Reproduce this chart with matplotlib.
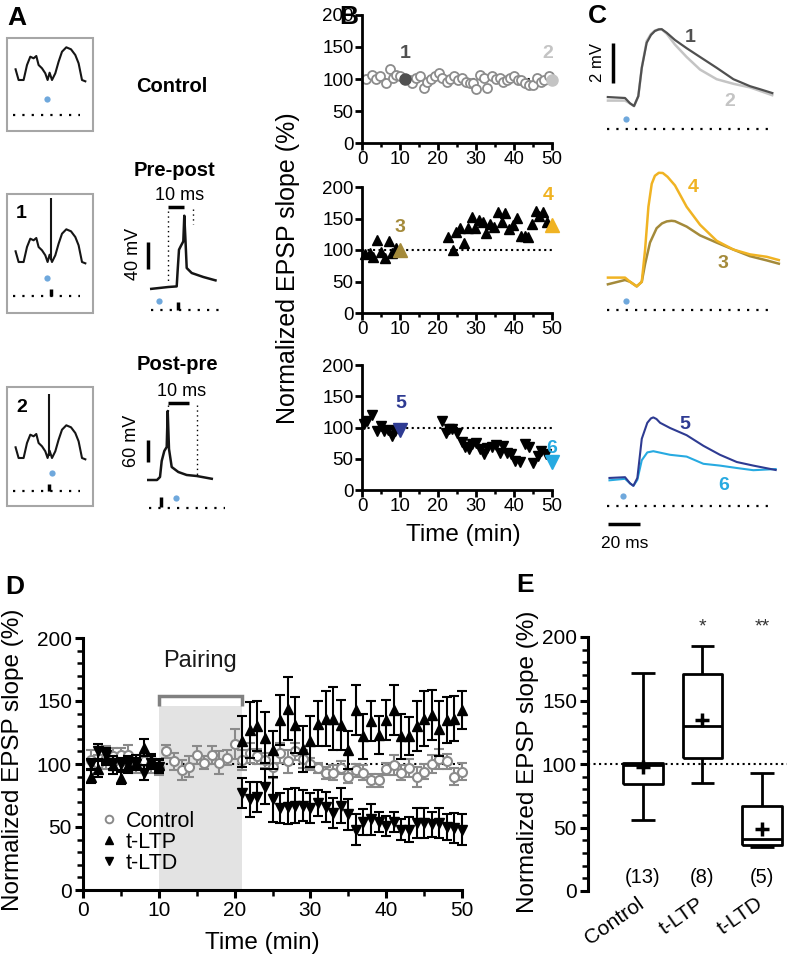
import numpy as np
import matplotlib.pyplot as plt
import matplotlib.transforms as mtransforms
from matplotlib.patches import Rectangle
from matplotlib.lines import Line2D
from matplotlib.ticker import MultipleLocator

plt.rcParams['font.family'] = ['Liberation Sans', 'DejaVu Sans']
plt.rcParams['lines.solid_capstyle'] = 'butt'

W, H = 791, 961

# ---------------- data ----------------
# A: place-field voltage trace inside a box (local px), used for the three boxes
pf_x = [8, 11.3, 16.3, 19.7, 23, 26.3, 29, 31.3, 34.7, 38, 40.3, 42.3, 44.7, 48,
        51.3, 54.7, 59, 63.7, 68, 71.3, 74.7, 79]
pf_y = [30.3, 42, 42, 27, 18.7, 20.3, 18, 27, 30.3, 35.3, 42, 34.7, 42, 35.3,
        23.7, 13.7, 9.3, 11.3, 17, 25.3, 42, 43.7]
# A: pairing traces (local px from trace start, y down)
prepost_x = [0, 18.3, 26.7, 27.7, 29, 31, 33.3, 34.3, 35.5, 36.7, 41.7, 53.3, 66.7]
prepost_y = [0, -2, -2.6, -19.3, -39.3, -43.3, -47.6, -73.3, -48.3, -21, -16, -12, -8.3]
postpre_x = [0, 10, 13, 14.7, 17.3, 19.7, 20.7, 22, 24.7, 31.3, 39.7, 49.7, 66]
postpre_y = [0, 0, -3, -19, -29, -33, -69, -31, -13, -8, -5, -4, -1]

# B: single-cell examples (time min, EPSP slope %)
b1_t = [1, 2.5, 3.8, 4.7, 6.2, 7.3, 8.2, 9, 10.1, 12.6, 13.2, 14.2, 15.2, 16.4, 17,
        18.1, 19.2, 20.2, 21.1, 22.3, 23.1, 24.2, 25.3, 26.4, 27.3, 28.3, 29.1, 30,
        31, 32.1, 33, 34.1, 35.2, 36.2, 37, 38.1, 39, 40, 41, 41.9, 43, 44, 45, 46,
        47, 48, 49.1]
b1_v = [100, 107, 100, 105, 93, 115, 102, 107, 104, 98, 94, 101, 104, 86, 96,
        100, 105, 109, 101, 95, 100, 105, 98, 101, 96, 93, 93, 84,
        106, 101, 86, 104, 100, 101, 96, 98, 101, 105, 99, 98, 94, 90, 91, 102,
        96, 98, 105]
b1_mark_t = [11.3, 50]
b1_mark_v = [100, 99]

b2_t = [0.7, 2, 2.9, 4, 4.9, 6, 7, 8, 9, 22.7, 23.9, 24.7, 25.8, 26.8, 27.8, 29,
        29.8, 30.8, 31.8, 32.7, 33.7, 34.8, 35.7, 36.8, 37.7, 38.7, 39.7, 40.8,
        41.8, 42.8, 43.8, 44.7, 45.8, 46.7, 47.6, 48.7]
b2_v = [94, 96, 89, 116, 97, 88, 115, 95, 103, 120, 100, 129, 135, 111, 135, 152,
        135, 147, 145, 127, 142, 137, 160, 145, 158, 133, 140, 151,
        122, 122, 120, 142, 162, 154, 160, 144]
b2_mark_t = [10, 50]
b2_mark_v = [100, 140]

b3_t = [0.4, 1.3, 2.7, 4, 4.9, 5.8, 6.9, 7.9, 8.7, 21, 22, 23, 23.8, 25, 26.2,
        27.2, 28.1, 29, 30, 31, 32.1, 33, 34.1, 35.3, 36.2, 37.2, 38.1, 39.3,
        40.3, 41.5, 42.9, 44, 45.1, 46.2, 47.1, 48.4]
b3_v = [105, 111, 120, 95, 103, 94, 96, 87, 94, 111, 92, 97, 97, 92, 77,
        69, 65, 73, 75, 65, 57, 68, 69, 72, 60, 70, 59, 57,
        47, 45, 74, 69, 43, 54, 62, 58]
b3_mark_t = [10, 50]
b3_mark_v = [96, 45]

# C: EPSP traces (ms, mV)
c1_t = [0, 11.6, 14.8, 17.3, 20.0, 22.2, 25.3, 28, 30.5, 33, 34.8, 38.0, 43.2, 50.6,
        59.1, 69.6, 80.2, 90.7, 97.0, 105.5]
c1_v = [0, -0.05, -0.32, -0.45, 0.04, 1.46, 2.71, 3.1, 3.3, 3.38, 3.39, 3.21, 2.85,
        2.44, 2.0, 1.46, 0.89, 0.54, 0.39, 0.18]
c2_t = [0, 11.6, 14.8, 17.3, 20.0, 22.2, 25.3, 28, 30.5, 33, 34.8, 38.0, 43.2, 50.6,
        59.1, 69.6, 80.2, 90.7, 105.5]
c2_v = [-0.18, -0.18, -0.32, -0.46, 0.04, 1.46, 2.8, 3.15, 3.32, 3.39, 3.39, 3.16,
        2.62, 2.0, 1.37, 0.89, 0.66, 0.48, 0.07]
c3_t = [0, 11.6, 14.8, 19.0, 22.2, 24.3, 27.4, 31.6, 35, 38.0, 41, 43.2, 50.6, 59.1,
        69.6, 80.2, 90.7, 101.3, 109.7]
c3_v = [-0.14, 0.09, 0, -0.23, 0, 0.89, 1.96, 2.68, 2.92, 3.02, 3.05, 3.03, 2.76,
        2.32, 1.96, 1.61, 1.28, 1.07, 0.89]
c4_t = [0, 11.6, 14.8, 19.0, 22.2, 24.3, 26.4, 28.5, 30.5, 33, 35.5, 38.5, 43.2, 50.6,
        59.1, 69.6, 80.2, 90.7, 101.3, 109.7]
c4_v = [0.21, 0.21, 0, -0.23, 0, 1.61, 3.75, 4.9, 5.3, 5.45, 5.44, 5.25, 4.82, 3.75,
        2.85, 2.05, 1.61, 1.37, 1.25, 1.07]
c5_t = [1.1, 11.6, 14.8, 16.9, 19.4, 22.2, 25.7, 28, 29.5, 31.5, 33.8, 40.1, 50.6,
        61.2, 71.7, 82.3, 92.8, 107.6]
c5_v = [0, 0.04, -0.27, -0.39, 0, 1.96, 2.76, 2.98, 3.03, 2.95, 2.76, 2.5, 2.14,
        1.61, 1.16, 0.8, 0.62, 0.39]
c6_t = [1.1, 11.6, 14.8, 16.9, 19.4, 22.2, 25.7, 29.5, 40.1, 50.6, 61.2, 71.7,
        82.3, 92.8, 107.6]
c6_v = [-0.12, -0.04, -0.27, -0.39, -0.09, 0.89, 1.28, 1.34, 1.16, 1.07, 0.71,
        0.62, 0.5, 0.39, 0.45]

# D: averaged time courses (mean, SEM)
d_ctrl_t = list(range(1, 51))
d_ctrl_v = [103, 100, 105, 106, 107, 107, 100, 102, 100, 97,
            110, 102, 95, 98, 107, 101, 107, 101, 105, 116,
            103, 109, 106, 103, 98, 109, 102, 110, 104, 100,
            97, 93, 93, 97, 90, 95, 93, 87, 87, 96,
            99, 93, 97, 90, 94, 100, 104, 102, 90, 94]
d_ctrl_e = [8, 7, 9, 7, 6, 8, 7, 6, 7, 6,
            5, 7, 8, 8, 7, 5, 7, 9, 6, 12,
            8, 8, 6, 6, 9, 8, 9, 7, 7, 5,
            4, 5, 6, 5, 5, 5, 6, 5, 5, 5,
            8, 6, 7, 8, 6, 7, 8, 6, 7, 7]
d_pair_t = list(range(1, 11)) + list(range(21, 51))
d_ltp_v = [90, 96, 105, 99, 89, 99, 101, 113, 103, 99,
           118, 127, 130, 121, 111, 135, 144, 131, 112, 118,
           132, 136, 136, 131, 111, 143, 122, 134, 123, 135,
           143, 122, 122, 130, 136, 139, 128, 135, 136, 143]
d_ltp_e = [5, 6, 6, 7, 5, 6, 6, 7, 5, 5,
           20, 22, 20, 20, 15, 20, 25, 22, 18, 20,
           18, 22, 25, 20, 15, 20, 18, 16, 15, 16,
           20, 18, 15, 20, 22, 20, 22, 18, 18, 15]
d_ltd_v = [100, 110, 107, 101, 100, 100, 100, 93, 101, 98,
           77, 72, 74, 82, 72, 65, 66, 67, 67, 65,
           69, 66, 61, 67, 60, 48, 54, 56, 54, 51,
           54, 48, 48, 53, 53, 52, 53, 50, 49, 48]
d_ltd_e = [4, 6, 6, 5, 5, 6, 5, 6, 5, 5,
           12, 14, 12, 14, 18, 12, 14, 14, 12, 12,
           10, 12, 12, 14, 12, 12, 10, 12, 8, 8,
           8, 8, 10, 12, 12, 10, 12, 10, 12, 12]
pairing_start, pairing_end = 10, 21

# E: summary box plots
e_groups = ['Control', 't-LTP', 't-LTD']
e_whislo = [56, 85, 35]
e_q1 = [84, 105, 36]
e_med = [99, 130, 41]
e_q3 = [101, 171, 67]
e_whishi = [172, 193, 93]
e_mean = [98, 135, 49]
e_n = ['(13)', '(8)', '(5)']
e_sig = ['', '*', '**']

# ---------------- colours ----------------
col_1, col_2 = '#505050', '#c4c4c4'
col_3, col_4 = '#a48a3a', '#f0b323'
col_5, col_6 = '#2e3b92', '#27aae1'
stim_blue = '#6fa8dc'
ctrl_gray = '#8a8a8a'

fig = plt.figure(figsize=(W / 100, H / 100), dpi=100)


def add_ax(x0, y0, x1, y1):
    return fig.add_axes([x0 / W, 1 - y1 / H, (x1 - x0) / W, (y1 - y0) / H])


def ftxt(x, y, s, **kw):
    kw.setdefault('ha', 'center')
    kw.setdefault('va', 'center')
    fig.text(x / W, 1 - y / H, s, **kw)


def dots(ax, x0, x1, y, lw=1.6):
    ax.plot([x0, x1], [y, y], color='k', lw=lw, dashes=(1, 3.2))


# ---------------- panel A ----------------
ax_a = add_ax(0, 0, 230, 560)
ax_a.set_xlim(0, 230)
ax_a.set_ylim(560, 0)
ax_a.axis('off')

boxes = [(7.3, 38, 92.7, 131, 0, None), (7.3, 194, 92.7, 313, 26, (43.3, 4)),
         (7.3, 387, 92.7, 506, 29, (42, 7))]
box_dot = [(46.7, 99), (46.7, 278), (51.7, 472.6)]
box_line = [115, 296, 490.5]
for (x0, y0, x1, y1, off, spike), (dx, dy), ly in zip(boxes, box_dot, box_line):
    ax_a.add_patch(Rectangle((x0, y0), x1 - x0, y1 - y0, fill=False,
                             ec='#a6a6a6', lw=1.5))
    ax_a.plot(np.array(pf_x) + x0, np.array(pf_y) + y0 + off, color='#151515', lw=1.5)
    if spike is not None:
        sx = spike[0] + x0
        ax_a.plot([sx, sx], [y0 + spike[1], y0 + off + 40], color='#151515', lw=1.5)
        ax_a.plot([sx, sx], [ly - 7, ly], color='k', lw=2.5)
    ax_a.plot(dx, dy, 'o', color=stim_blue, ms=4.5, mec='none')
    dots(ax_a, x0 + 6, x0 + 73, ly)
ax_a.text(21, 214, '1', fontsize=14, fontweight='bold', ha='center', va='center')
ax_a.text(22, 407, '2', fontsize=14, fontweight='bold', ha='center', va='center')

ax_a.text(172, 86, 'Control', fontsize=14.5, fontweight='bold', ha='center', va='center')
ax_a.text(174, 170, 'Pre-post', fontsize=14.5, fontweight='bold', ha='center', va='center')
ax_a.text(177, 364, 'Post-pre', fontsize=14.5, fontweight='bold', ha='center', va='center')

# pre-post pairing
ox, oy = 150, 289
ax_a.plot(np.array(prepost_x) + ox, np.array(prepost_y) + oy, color='#151515', lw=1.8)
ax_a.plot([168.3, 184.3], [206.7, 206.7], color='k', lw=2.5)
ax_a.text(180, 195, '10 ms', fontsize=13, ha='center', va='center')
ax_a.plot([167.7, 167.7], [211, 281], color='k', lw=1, dashes=(1, 2.5))
ax_a.plot([192.7, 192.7], [209, 224], color='k', lw=1, dashes=(1, 2.5))
ax_a.plot([147.7, 147.7], [242, 269], color='k', lw=2.5)
ax_a.text(134, 254, '40 mV', fontsize=13, rotation=90, ha='center', va='center')
ax_a.plot(159.3, 300.7, 'o', color=stim_blue, ms=4.5, mec='none')
ax_a.plot([178.3, 178.3], [302, 310], color='k', lw=2.5)
dots(ax_a, 151, 225, 310)

# post-pre pairing
ox, oy = 147, 480
ax_a.plot(np.array(postpre_x) + ox, np.array(postpre_y) + oy, color='#151515', lw=1.8)
ax_a.plot([168, 189], [402.7, 402.7], color='k', lw=2.5)
ax_a.text(182, 392, '10 ms', fontsize=13, ha='center', va='center')
ax_a.plot([167.7, 167.7], [405, 411], color='k', lw=1, dashes=(1, 2.5))
ax_a.plot([196.7, 196.7], [405, 476], color='k', lw=1, dashes=(1, 2.5))
ax_a.plot([147.7, 147.7], [440, 462], color='k', lw=2.5)
ax_a.text(131, 441, '60 mV', fontsize=13, rotation=90, ha='center', va='center')
ax_a.plot(176, 497.6, 'o', color=stim_blue, ms=4.5, mec='none')
ax_a.plot([161, 161], [497, 507], color='k', lw=2.5)
dots(ax_a, 149, 225, 508)


# ---------------- panel B ----------------
def style_b(ax):
    ax.set_xlim(0, 50)
    ax.set_ylim(0, 200)
    for s in ['top', 'right']:
        ax.spines[s].set_visible(False)
    for s in ['left', 'bottom']:
        ax.spines[s].set_linewidth(2)
    ax.set_xticks(range(0, 51, 10))
    ax.xaxis.set_minor_locator(MultipleLocator(5))
    ax.set_yticks(range(0, 201, 50))
    ax.tick_params(which='major', labelsize=13.5, width=2, length=5, pad=1)
    ax.tick_params(which='minor', width=1.8, length=3)
    ax.axhline(100, color='k', ls=':', lw=1.5, zorder=1)


ax_b1 = add_ax(362, 15, 552, 143)
style_b(ax_b1)
ax_b1.plot(b1_t, b1_v, 'o', ms=6.5, mfc='white', mec='#8c8c8c', mew=1.3, clip_on=False)
ax_b1.plot(b1_mark_t[0], b1_mark_v[0], 'o', ms=8, color=col_1, clip_on=False)
ax_b1.plot(b1_mark_t[1], b1_mark_v[1], 'o', ms=8, color=col_2, clip_on=False)
ax_b1.text(b1_mark_t[0], 140, '1', color=col_1, fontsize=14, fontweight='bold', ha='center', va='center')
ax_b1.text(b1_mark_t[1] - 1, 140, '2', color=col_2, fontsize=14, fontweight='bold', ha='center', va='center')

ax_b2 = add_ax(362, 187, 552, 313)
style_b(ax_b2)
ax_b2.plot(b2_t, b2_v, '^', ms=7, color='k', clip_on=False)
ax_b2.plot(b2_mark_t[0], b2_mark_v[0], '^', ms=9.5, color=col_3, clip_on=False)
ax_b2.plot(b2_mark_t[1], b2_mark_v[1], '^', ms=9.5, color=col_4, clip_on=False)
ax_b2.text(b2_mark_t[0], 136, '3', color=col_3, fontsize=14, fontweight='bold', ha='center', va='center')
ax_b2.text(b2_mark_t[1] - 1, 187, '4', color=col_4, fontsize=14, fontweight='bold', ha='center', va='center')

ax_b3 = add_ax(362, 365, 552, 490)
style_b(ax_b3)
ax_b3.plot(b3_t, b3_v, 'v', ms=7, color='k', clip_on=False)
ax_b3.plot(b3_mark_t[0], b3_mark_v[0], 'v', ms=9.5, color=col_5, clip_on=False)
ax_b3.plot(b3_mark_t[1], b3_mark_v[1], 'v', ms=9.5, color=col_6, clip_on=False)
ax_b3.text(b3_mark_t[0] + 0.3, 138, '5', color=col_5, fontsize=14, fontweight='bold', ha='center', va='center')
ax_b3.text(b3_mark_t[1], 66, '6', color=col_6, fontsize=14, fontweight='bold', ha='center', va='center')

ftxt(288, 268, 'Normalized EPSP slope (%)', fontsize=18, rotation=90)
ftxt(463, 535, 'Time (min)', fontsize=17.5)

# ---------------- panel C ----------------
sx, sy = 1.58, 20.0


def trace_ax(x0, y0, x1, y1, ox, oy):
    ax = add_ax(x0, y0, x1, y1)
    ax.set_xlim((x0 - ox) / sx, (x1 - ox) / sx)
    ax.set_ylim((oy - y1) / sy, (oy - y0) / sy)
    ax.axis('off')
    return ax


ax_c1 = trace_ax(590, 0, 791, 150, 606.7, 97)
ax_c1.plot(c2_t, c2_v, color=col_2, lw=1.8)
ax_c1.plot(c1_t, c1_v, color=col_1, lw=1.6)
ax_c1.plot(12.2, -1.12, 'o', color=stim_blue, ms=4.5, mec='none')
dots(ax_c1, 0, 103, -1.6)
ax_c1.plot([4.2, 4.2], [0.71, 2.71], color='k', lw=2.5)
ax_c1.text(-5.6, 1.73, '2 mV', fontsize=12, rotation=90, ha='center', va='center')
ax_c1.text(52.7, 2.98, '1', color=col_1, fontsize=14, fontweight='bold', ha='center', va='center')
ax_c1.text(78, -0.23, '2', color=col_2, fontsize=14, fontweight='bold', ha='center', va='center')

ax_c2 = trace_ax(590, 150, 791, 330, 606.7, 281.8)
ax_c2.plot(c3_t, c3_v, color=col_3, lw=1.8)
ax_c2.plot(c4_t, c4_v, color=col_4, lw=1.8)
ax_c2.plot(12.2, -0.98, 'o', color=stim_blue, ms=4.5, mec='none')
dots(ax_c2, 0, 103, -1.43)
ax_c2.text(54.9, 4.73, '4', color=col_4, fontsize=14, fontweight='bold', ha='center', va='center')
ax_c2.text(73.8, 0.93, '3', color=col_3, fontsize=14, fontweight='bold', ha='center', va='center')

ax_c3 = trace_ax(590, 330, 791, 560, 606.7, 478)
ax_c3.plot(c6_t, c6_v, color=col_6, lw=1.5)
ax_c3.plot(c5_t, c5_v, color=col_5, lw=1.5)
ax_c3.plot(10.1, -0.89, 'o', color=stim_blue, ms=4.5, mec='none')
dots(ax_c3, 0, 103, -1.39)
ax_c3.plot([1.1, 21.1], [-2.32, -2.32], color='k', lw=2.5)
ax_c3.text(11.1, -3.3, '20 ms', fontsize=12.5, ha='center', va='center')
ax_c3.text(49.6, 2.68, '5', color=col_5, fontsize=14, fontweight='bold', ha='center', va='center')
ax_c3.text(73.8, -0.36, '6', color=col_6, fontsize=14, fontweight='bold', ha='center', va='center')

# ---------------- panel D ----------------
ax_d = add_ax(83, 638, 462, 890)
ax_d.set_xlim(0, 50)
ax_d.set_ylim(0, 200)
for s in ['top', 'right']:
    ax_d.spines[s].set_visible(False)
for s in ['left', 'bottom']:
    ax_d.spines[s].set_linewidth(2.2)
ax_d.set_xticks(range(0, 51, 10))
ax_d.xaxis.set_minor_locator(MultipleLocator(5))
ax_d.set_yticks(range(0, 201, 50))
ax_d.yaxis.set_minor_locator(MultipleLocator(10))
ax_d.tick_params(which='major', labelsize=15, width=2.2, length=6, pad=2)
ax_d.tick_params(which='minor', width=1.8, length=4)

ax_d.add_patch(Rectangle((pairing_start, 0), pairing_end - pairing_start, 146,
                         color='#e3e3e3', lw=0, zorder=0))
ax_d.plot([pairing_start, pairing_start, pairing_end, pairing_end], [146, 154, 154, 146],
          color='#808080', lw=2.5, solid_joinstyle='miter')
ax_d.text((pairing_start + pairing_end) / 2, 182, 'Pairing', fontsize=17, ha='center', va='center',
          color='#1a1a1a')
ax_d.axhline(100, color='k', ls=':', lw=1.5, zorder=1)

ax_d.errorbar(d_ctrl_t, d_ctrl_v, yerr=d_ctrl_e, fmt='o', ms=6.5, mfc='white', mec=ctrl_gray,
              mew=1.5, ecolor=ctrl_gray, elinewidth=1.5, capsize=3.5, capthick=1.5,
              zorder=2, clip_on=False)
ax_d.errorbar(d_pair_t, d_ltp_v, yerr=d_ltp_e, fmt='^', ms=7, color='k',
              elinewidth=1.5, capsize=3.5, capthick=1.5, zorder=3, clip_on=False)
ax_d.errorbar(d_pair_t, d_ltd_v, yerr=d_ltd_e, fmt='v', ms=7, color='k',
              elinewidth=1.5, capsize=3.5, capthick=1.5, zorder=3, clip_on=False)

handles = [Line2D([], [], ls='none', marker='o', ms=5.5, mfc='white', mec=ctrl_gray, mew=1.4),
           Line2D([], [], ls='none', marker='^', ms=6, color='k'),
           Line2D([], [], ls='none', marker='v', ms=6, color='k')]
ax_d.legend(handles, ['Control', 't-LTP', 't-LTD'], loc='upper left',
            bbox_to_anchor=(0.045, 0.315), frameon=False, fontsize=15.5,
            handlelength=0.8, handletextpad=0.4, labelspacing=0.0,
            borderpad=0, borderaxespad=0)

ftxt(13, 760, 'Normalized EPSP slope (%)', fontsize=17.5, rotation=90)
ftxt(262, 943, 'Time (min)', fontsize=17.5)

# ---------------- panel E ----------------
ax_e = add_ax(588, 637, 787, 891)
stats = []
for i in range(len(e_groups)):
    stats.append(dict(label=e_groups[i], whislo=e_whislo[i], q1=e_q1[i], med=e_med[i],
                      q3=e_q3[i], whishi=e_whishi[i], mean=e_mean[i], fliers=[]))
ax_e.axhline(100, color='k', ls=':', lw=1.5, zorder=0)
ax_e.bxp(stats, positions=[1, 2, 3], widths=0.67, showmeans=True, capwidths=0.4,
         boxprops=dict(lw=2, color='k'), whiskerprops=dict(lw=2, color='k'),
         capprops=dict(lw=2, color='k'), medianprops=dict(lw=2, color='k'),
         meanprops=dict(marker='+', mec='k', ms=10, mew=2.5))
ax_e.set_xlim(0.076, 3.42)
ax_e.set_ylim(0, 200)
for s in ['top', 'right', 'bottom']:
    ax_e.spines[s].set_visible(False)
ax_e.spines['left'].set_linewidth(2.2)
ax_e.set_yticks(range(0, 201, 50))
ax_e.yaxis.set_minor_locator(MultipleLocator(10))
ax_e.tick_params(axis='y', which='major', labelsize=15, width=2.2, length=6, pad=2)
ax_e.tick_params(axis='y', which='minor', width=1.8, length=4)
ax_e.tick_params(axis='x', length=0, labelsize=15, pad=2)
ax_e.set_xticks([1, 2, 3])
ax_e.set_xticklabels(e_groups, rotation=35, ha='right', rotation_mode='anchor')
shift = mtransforms.ScaledTranslation(-6 / 100, 0, fig.dpi_scale_trans)
for lbl in ax_e.get_xticklabels():
    lbl.set_transform(lbl.get_transform() + shift)
for i in range(len(e_groups)):
    ax_e.text(i + 1, 11, e_n[i], fontsize=14.5, ha='center', va='center')
    ax_e.text(i + 1, 208, e_sig[i], fontsize=14, ha='center', va='center',
              color='#333333', clip_on=False)

ftxt(528, 762, 'Normalized EPSP slope (%)', fontsize=17.5, rotation=90)

# ---------------- panel letters ----------------
for lab, x, y in [('A', 17, 18), ('B', 349, 17), ('C', 597, 16), ('D', 15, 587), ('E', 525, 585)]:
    ftxt(x, y, lab, fontsize=19, fontweight='bold')

fig.savefig('out.png', dpi=100)
